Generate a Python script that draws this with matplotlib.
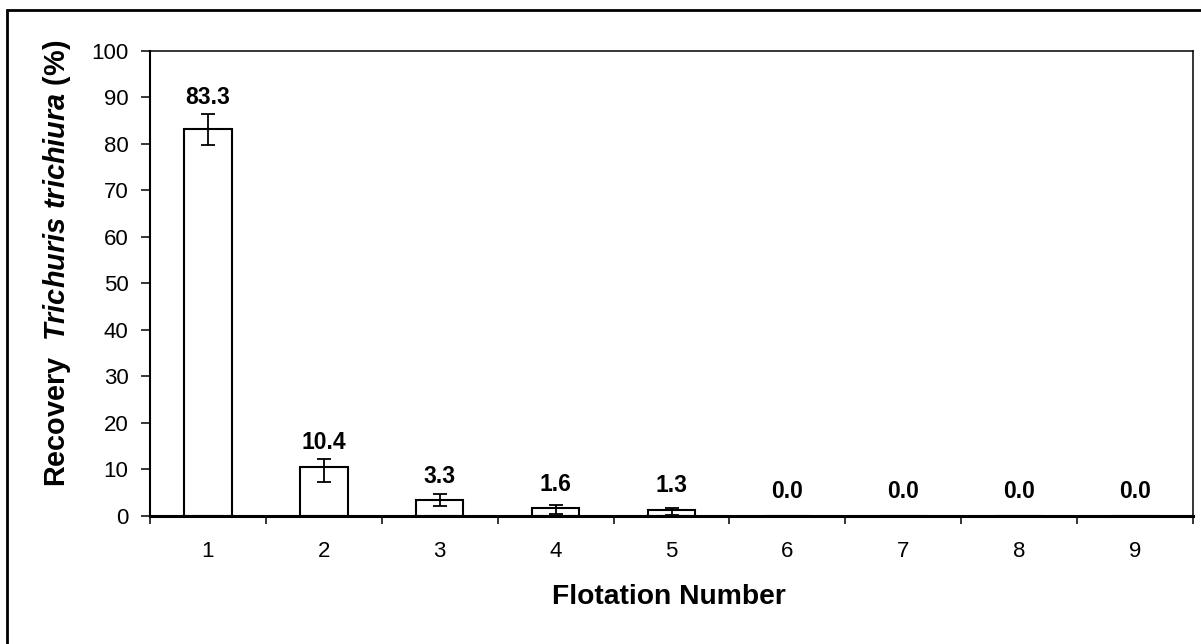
import matplotlib
matplotlib.use("Agg")
import matplotlib.pyplot as plt
from matplotlib.patches import Rectangle

plt.rcParams['font.family'] = ['Liberation Sans', 'DejaVu Sans']
plt.rcParams['mathtext.fontset'] = 'custom'
plt.rcParams['mathtext.it'] = 'Liberation Sans:italic:bold'
plt.rcParams['mathtext.rm'] = 'Liberation Sans:bold'

flotation = [1, 2, 3, 4, 5, 6, 7, 8, 9]
recovery = [83.3, 10.4, 3.3, 1.6, 1.3, 0.0, 0.0, 0.0, 0.0]
err_low = [3.5, 3.1, 1.3, 1.3, 1.1, 0.0, 0.0, 0.0, 0.0]
err_up = [3.2, 1.8, 1.4, 0.8, 0.3, 0.0, 0.0, 0.0, 0.0]
labels = ["83.3", "10.4", "3.3", "1.6", "1.3", "0.0", "0.0", "0.0", "0.0"]

W, H = 1201, 644
fig = plt.figure(figsize=(W / 100, H / 100), dpi=100)
ax = fig.add_axes([150 / W, 1 - 515.7 / H, (1193 - 150) / W, (515.7 - 51) / H])

ax.bar(flotation, recovery, width=0.41, color='white', edgecolor='black', linewidth=1.5, zorder=2)
has_err = [i for i, v in enumerate(recovery) if v > 0]
ax.errorbar([flotation[i] for i in has_err], [recovery[i] for i in has_err],
            yerr=[[err_low[i] for i in has_err], [err_up[i] for i in has_err]],
            fmt='none', ecolor='black', elinewidth=1.3, capsize=5, capthick=1.3, zorder=3)

for x, v, lo, up, lab in zip(flotation, recovery, err_low, err_up, labels):
    y = max(v + 3.8, v + up + 2.2)
    ax.text(x, y, lab, ha='center', va='baseline', fontsize=16.5, fontweight='bold')

ax.set_xlim(0.5, 9.5)
ax.set_ylim(0, 100)
ax.set_yticks(range(0, 101, 10))
ax.set_xticks(flotation)
ax.set_xticks([i + 0.5 for i in range(0, 10)], minor=True)
ax.tick_params(axis='x', which='major', length=0, pad=18, labelsize=16)
ax.tick_params(axis='x', which='minor', length=6, width=1.1, direction='out')
ax.tick_params(axis='y', which='major', length=6.5, width=1.1, direction='out', labelsize=16, pad=9)
for s in ax.spines.values():
    s.set_linewidth(1.1)
ax.spines['left'].set_linewidth(1.5)
ax.spines['bottom'].set_linewidth(2.2)

fig.text(669 / W, 1 - 597 / H, 'Flotation Number', fontsize=20.3, fontweight='bold',
         ha='center', va='center')
fig.text(57 / W, 1 - 263 / H, r'Recovery  $Trichuris\ trichiura$ (%)', fontsize=20.8,
         fontweight='bold', rotation=90, ha='center', va='center')

fig.patches.append(Rectangle((7 / W, -0.1), 1.2, (H - 10) / H + 0.1, transform=fig.transFigure,
                             fill=False, edgecolor='black', linewidth=2))

fig.savefig('out.png', dpi=100)
